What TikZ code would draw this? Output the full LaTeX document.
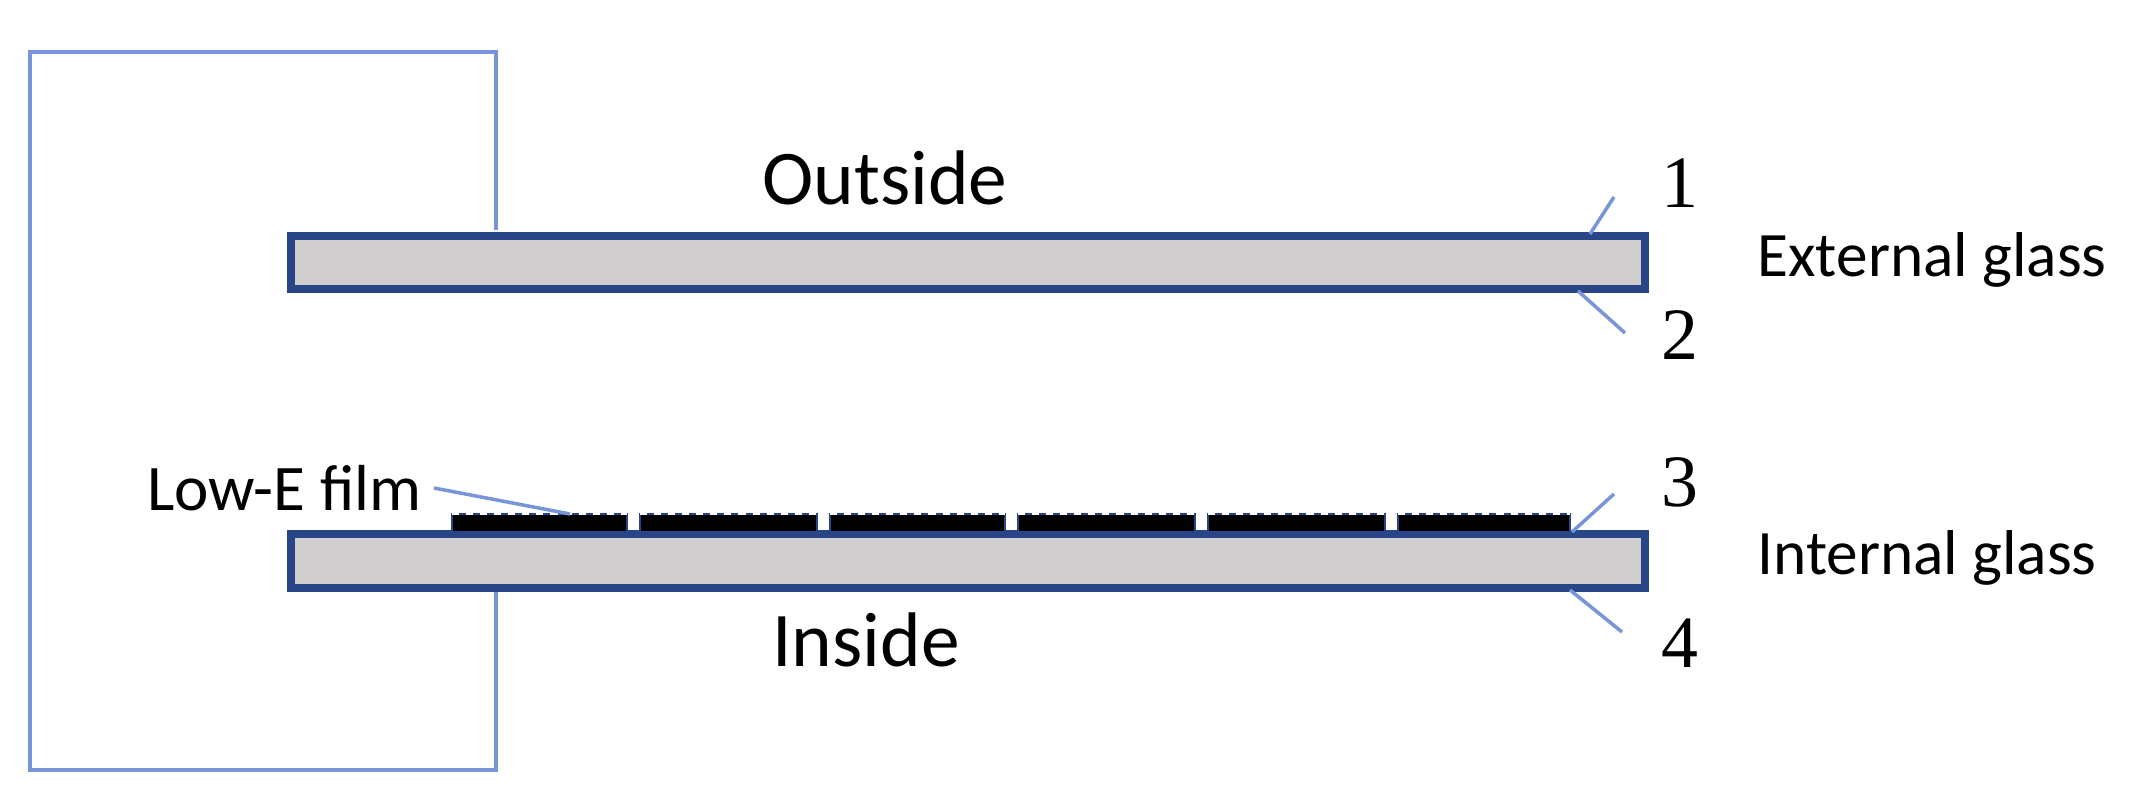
\documentclass[tikz,border=0pt]{standalone}
\usepackage{fontspec}
\setmainfont{Liberation Serif}
\newfontfamily\sans{Carlito}
\definecolor{framec}{RGB}{120,150,215}
\definecolor{glassc}{RGB}{40,70,135}
\definecolor{glassf}{RGB}{208,206,206}
\begin{document}
\begin{tikzpicture}[x=0.01cm,y=-0.01cm,
  frame/.style={draw=framec, line width=1.2pt},
  glass/.style={draw=glassc, line width=2.4pt, fill=glassf},
  film/.style={fill=black, draw=glassc, line width=0.8pt},
  lead/.style={draw=framec, line width=1pt},
  num/.style={font=\fontsize{21}{21}\selectfont, inner sep=0pt}]
\useasboundingbox (0,0) rectangle (2130,807);
\draw[frame] (496,230) -- (496,52) -- (30,52) -- (30,770) -- (496,770) -- (496,590);
\path[glass] (291,236) rectangle (1645,289);
\path[glass] (291,534) rectangle (1645,588);
\foreach \a/\b in {452/627,640/817,830/1005,1018/1195,1208/1385,1398/1570}
  \path[film] (\a,514) rectangle (\b,532);
\foreach \a/\b in {452/627,640/817,830/1005,1018/1195,1208/1385,1398/1570}
  \draw[white, dash pattern=on 2pt off 2pt, line width=0.6pt] (\a,514) -- (\b,514);
\node[font=\sans\fontsize{22}{22}\selectfont] (out) at (885,178) {Outside};
\node[font=\sans\fontsize{22}{22}\selectfont] (in) at (866,640) {Inside};
\node[font=\sans\fontsize{18.5}{18.5}\selectfont, anchor=east] (low) at (434,488) {Low-E film};
\coordinate (lowend) at (570,514);
\draw[lead] (low.east) -- (lowend);
\node[num] (n1) at (1680,183) {1};
\node[num] (n2) at (1680,335) {2};
\node[num] (n3) at (1680,482) {3};
\node[num] (n4) at (1680,643) {4};
\coordinate (p1) at (1590,234); \coordinate (p2) at (1578,291);
\coordinate (p3) at (1572,532); \coordinate (p4) at (1570,590);
\draw[lead] (p1) -- (1614,197);
\draw[lead] (p2) -- (1625,333);
\draw[lead] (p3) -- (1614,494);
\draw[lead] (p4) -- (1622,632);
\node[font=\sans\fontsize{18}{18}\selectfont, anchor=west] (eg) at (1745,260) {External glass};
\node[font=\sans\fontsize{18}{18}\selectfont, anchor=west] (ig) at (1745,558) {Internal glass};
\end{tikzpicture}
\end{document}
